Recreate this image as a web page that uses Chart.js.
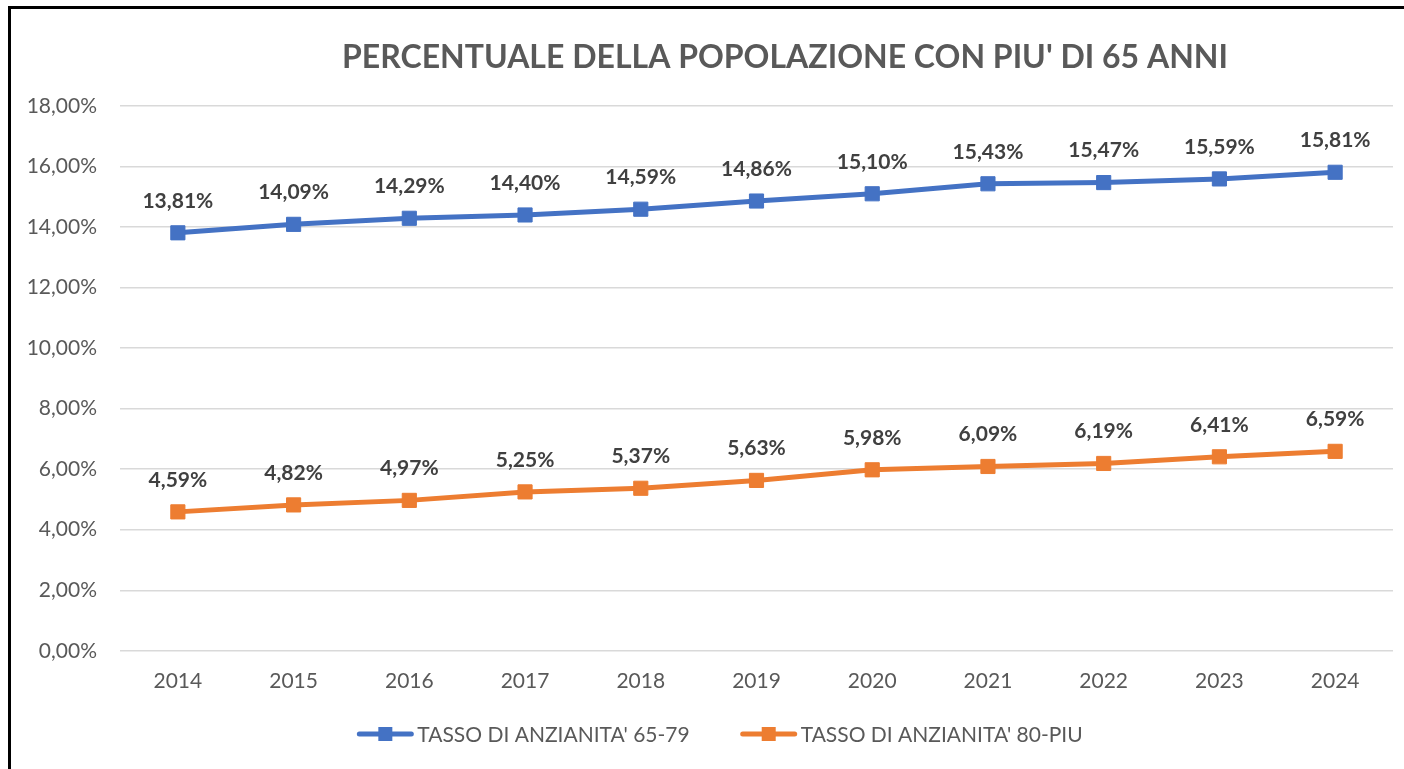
<!DOCTYPE html>
<html>
<head>
<meta charset="utf-8">
<script src="https://cdn.jsdelivr.net/npm/chart.js@4"></script>
<style>
  html, body { margin: 0; padding: 0; background: #fff; overflow: hidden; }
  #frame { position: absolute; left: 8px; top: 6px; width: 1500px; height: 900px; border-left: 3px solid #000; border-top: 3px solid #000; }
  #wrap { position: absolute; left: 0; top: 0; width: 1404px; height: 769px; }
</style>
</head>
<body>
<div id="frame"></div>
<div id="wrap"><canvas id="popChart"></canvas></div>
<script>
const years = ["2014", "2015", "2016", "2017", "2018", "2019", "2020", "2021", "2022", "2023", "2024"];
const tasso6579 = [13.81, 14.09, 14.29, 14.40, 14.59, 14.86, 15.10, 15.43, 15.47, 15.59, 15.81];
const tasso80 = [4.59, 4.82, 4.97, 5.25, 5.37, 5.63, 5.98, 6.09, 6.19, 6.41, 6.59];
const seriesNames = ["TASSO DI ANZIANITA' 65-79", "TASSO DI ANZIANITA' 80-PIU"];
const colors = ["#4472C4", "#ED7D31"];
const titleText = "PERCENTUALE DELLA POPOLAZIONE CON PIU' DI 65 ANNI";
const FONT = "Lato, 'Open Sans', sans-serif";

function pct(v) {
  return v.toFixed(2).replace(".", ",") + "%";
}

// title, data labels and the legend (line + square symbol) are drawn here
const extras = {
  id: "extras",
  afterDatasetsDraw(chart) {
    const ctx = chart.ctx;
    ctx.save();
    ctx.font = "bold 21px " + FONT;
    ctx.fillStyle = "#404040";
    ctx.textAlign = "center";
    ctx.textBaseline = "middle";
    chart.data.datasets.forEach((ds, i) => {
      chart.getDatasetMeta(i).data.forEach((pt, j) => {
        ctx.fillText(pct(ds.data[j]), pt.x, pt.y - 32);
      });
    });

    ctx.font = "bold 32px " + FONT;
    ctx.fillStyle = "#595959";
    ctx.fillText(titleText, 785, 58);

    // legend
    ctx.font = "21px " + FONT;
    ctx.textAlign = "left";
    const iconW = 56, iconGap = 4, itemGap = 51, ly = 734;
    const widths = chart.data.datasets.map(ds => ctx.measureText(ds.label).width);
    let total = 0;
    widths.forEach(w => { total += iconW + iconGap + w; });
    total += itemGap * (widths.length - 1);
    let x = 720 - total / 2;
    chart.data.datasets.forEach((ds, i) => {
      ctx.strokeStyle = colors[i];
      ctx.lineWidth = 5;
      ctx.lineCap = "round";
      ctx.beginPath();
      ctx.moveTo(x + 2, ly);
      ctx.lineTo(x + iconW - 2, ly);
      ctx.stroke();
      ctx.fillStyle = colors[i];
      ctx.fillRect(x + iconW / 2 - 7, ly - 7, 14, 14);
      ctx.fillStyle = "#595959";
      ctx.fillText(ds.label, x + iconW + iconGap, ly + 1);
      x += iconW + iconGap + widths[i] + itemGap;
    });
    ctx.restore();
  }
};

const ctx = document.getElementById("popChart").getContext("2d");
const chart = new Chart(ctx, {
  type: "line",
  data: {
    labels: years,
    datasets: [
      {
        label: seriesNames[0],
        data: tasso6579,
        borderColor: colors[0],
        backgroundColor: colors[0],
        borderWidth: 5,
        pointStyle: "rect",
        pointRadius: 10,
        pointBorderWidth: 1,
        tension: 0
      },
      {
        label: seriesNames[1],
        data: tasso80,
        borderColor: colors[1],
        backgroundColor: colors[1],
        borderWidth: 5,
        pointStyle: "rect",
        pointRadius: 10,
        pointBorderWidth: 1,
        tension: 0
      }
    ]
  },
  options: {
    responsive: true,
    maintainAspectRatio: false,
    animation: false,
    layout: { padding: { top: 106, left: 0, right: 6, bottom: 57 } },
    plugins: {
      title: { display: false },
      tooltip: { enabled: false },
      legend: { display: false }
    },
    scales: {
      x: {
        offset: true,
        grid: { display: false, drawTicks: false },
        border: { display: false },
        ticks: { color: "#595959", padding: 18, font: { family: FONT, size: 21 } }
      },
      y: {
        min: 0,
        max: 18,
        afterFit: (scale) => { scale.width = 120; },
        grid: { color: "#d9d9d9", lineWidth: 1.5, drawTicks: false },
        border: { display: false },
        ticks: {
          stepSize: 2,
          padding: 23,
          color: "#595959",
          font: { family: FONT, size: 21 },
          callback: (v) => pct(v)
        }
      }
    }
  },
  plugins: [extras]
});
</script>
</body>
</html>
